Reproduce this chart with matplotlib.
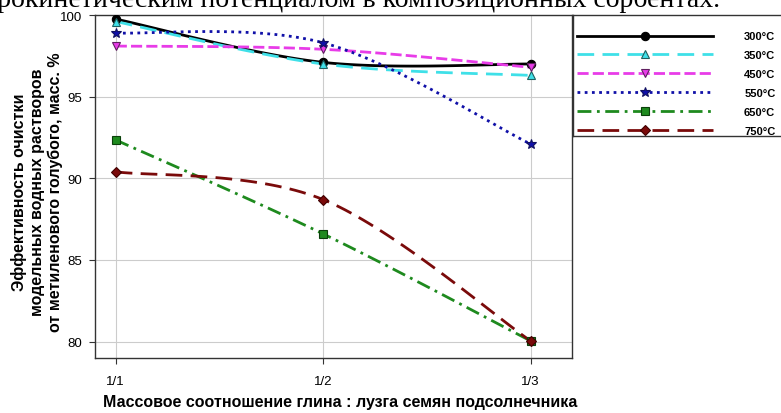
import numpy as np
import matplotlib
matplotlib.use("Agg")
import matplotlib.pyplot as plt
from matplotlib.lines import Line2D

plt.rcParams['font.family'] = ['Liberation Sans', 'DejaVu Sans']

categories = ["1/1", "1/2", "1/3"]
series_names = ["300°C", "350°C", "450°C", "550°C", "650°C", "750°C"]
v300 = [99.75, 97.1, 97.0]
v350 = [99.6, 97.0, 96.3]
v450 = [98.1, 97.9, 96.8]
v550 = [98.9, 98.3, 92.1]
v650 = [92.35, 86.6, 80.05]
v750 = [90.4, 88.7, 80.05]
yticks = [80, 85, 90, 95, 100]

series = [v300, v350, v450, v550, v650, v750]
colors = ["#000000", "#3FE0E8", "#E83CE8", "#1010A8", "#1E8A1E", "#7A0A0A"]
edges = ["#000000", "#206060", "#602060", "#101060", "#0A400A", "#400000"]
markers = ["o", "^", "v", "*", "s", "D"]
msizes = [6, 6, 6, 7, 6, 5.5]
styles = ["-", (0, (6, 3)), (0, (4, 1.5)), (0, (1, 1.6)), (0, (5, 2, 1, 2)), (0, (6, 3))]


def smooth(x, y, n=40):
    x = np.asarray(x, float)
    y = np.asarray(y, float)
    P = np.column_stack([x, y])
    m = len(P)
    out = []
    for i in range(m - 1):
        p0 = P[i - 1] if i > 0 else P[i]
        p1 = P[i]
        p2 = P[i + 1]
        p3 = P[i + 2] if i + 2 < m else P[i + 1]
        c1 = p1 + (p2 - p0) / 6.0
        c2 = p2 - (p3 - p1) / 6.0
        t = np.linspace(0, 1, n)[:, None]
        seg = (1 - t) ** 3 * p1 + 3 * (1 - t) ** 2 * t * c1 + 3 * (1 - t) * t ** 2 * c2 + t ** 3 * p2
        out.append(seg if i == 0 else seg[1:])
    S = np.vstack(out)
    return S[:, 0], S[:, 1]


fig = plt.figure(figsize=(7.81, 4.14), dpi=100)
ax = fig.add_axes([95 / 781, (414 - 359) / 414, (572 - 95) / 781, (359 - 16) / 414])

xs = np.arange(len(categories))
handles = []
for vals, name, c, ec, mk, ms, ls in zip(series, series_names, colors, edges, markers, msizes, styles):
    sx, sy = smooth(xs, vals)
    ax.plot(sx, sy, color=c, lw=2, linestyle=ls, zorder=3)
    ax.plot(xs, vals, linestyle='none', marker=mk, markersize=ms, markerfacecolor=c,
            markeredgecolor=ec, markeredgewidth=0.8, zorder=4)
    handles.append(Line2D([0], [0], color=c, lw=2, linestyle=ls, marker=mk, markersize=ms,
                          markerfacecolor=c, markeredgecolor=ec, markeredgewidth=0.8))

ax.set_xlim(-0.1, 2.2)
ax.set_ylim(79.0, 100.0)
ax.set_xticks(xs)
ax.set_xticklabels(categories, fontsize=9.5)
ax.set_yticks(yticks)
ax.set_yticklabels([str(t) for t in yticks], fontsize=9.5)
ax.grid(True, color="#cccccc", lw=0.8)
ax.set_axisbelow(True)
ax.tick_params(axis='both', length=4, width=0.8, color="#333333", pad=5)
ax.tick_params(axis='x', pad=8)
for s in ax.spines.values():
    s.set_color("#333333")
    s.set_linewidth(1.0)

fig.text(340 / 781, 1 - 403 / 414,
         "Массовое соотношение глина : лузга семян подсолнечника",
         ha='center', va='center', fontsize=11.5, fontweight='bold')
fig.text(37 / 781, 1 - 192 / 414,
         "Эффективность очистки\nмодельных водных растворов\nот метиленового голубого, масс. %",
         rotation=90, ha='center', va='center', fontsize=11.5, fontweight='bold',
         linespacing=1.25)

# legend box
lax = fig.add_axes([573 / 781, (414 - 137) / 414, 0.35, (137 - 16) / 414])
lax.set_xticks([])
lax.set_yticks([])
for s in lax.spines.values():
    s.set_color("#333333")
    s.set_linewidth(1.0)
lax.set_facecolor('white')
lax.legend(handles, series_names, loc='upper left', bbox_to_anchor=(0.0, 1 - 12 / 121),
           frameon=False, handlelength=12.2, handletextpad=2.8, labelspacing=0.8,
           prop={'size': 8, 'weight': 'bold'}, borderaxespad=0.0, borderpad=0.4)

fig.text(720 / 781, 1 - 7 / 414,
         "электрокинетическим потенциалом в композиционных сорбентах.",
         ha='right', va='baseline', fontsize=20, family='Liberation Serif')

fig.savefig("out.png", dpi=100)
